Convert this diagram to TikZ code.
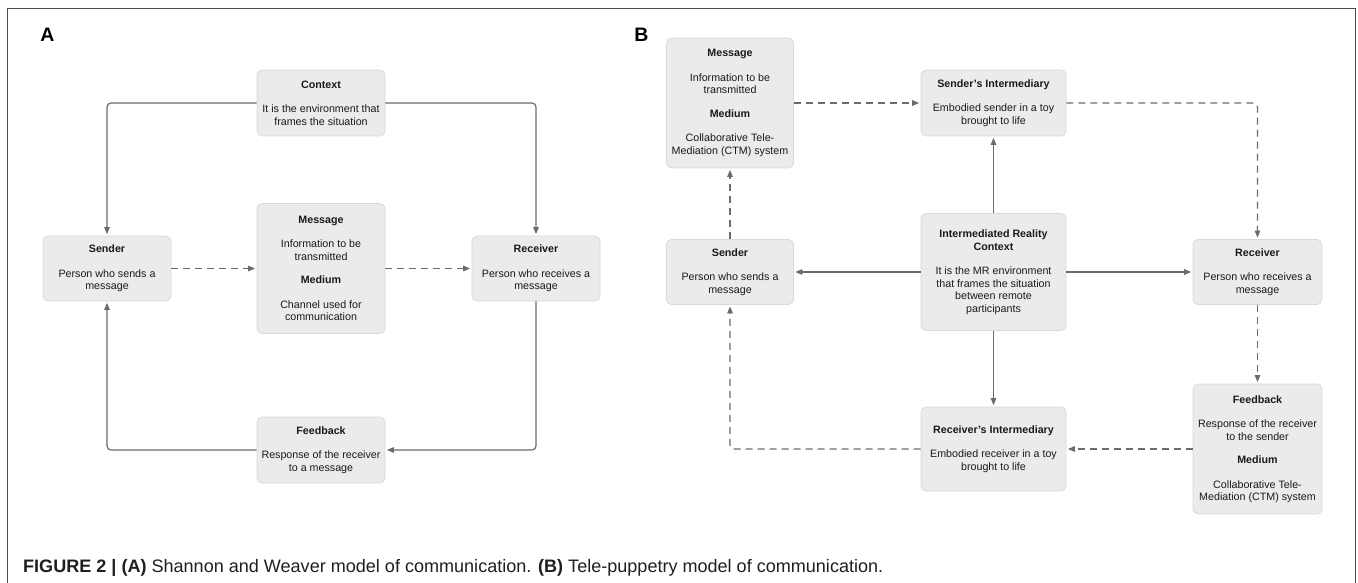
\documentclass[tikz,border=0pt]{standalone}
\usepackage{fontspec}
\setmainfont{Liberation Sans}
\usetikzlibrary{arrows.meta}
\definecolor{boxfill}{HTML}{EBEBEB}
\definecolor{boxedge}{HTML}{D8D8D8}
\definecolor{conn}{HTML}{6B6B6B}
\definecolor{frameclr}{HTML}{4D4D4D}
\definecolor{txt}{HTML}{1A1A1A}
\newcommand{\ttl}[1]{\textbf{#1}}
\begin{document}
\begin{tikzpicture}[x=1pt,y=-1pt,
  box/.style={draw=boxedge, line width=0.7pt, fill=boxfill, rounded corners=5pt,
    align=center, inner sep=0pt, text=txt, font=\fontsize{10.7}{12.5}\selectfont},
  conn/.style={draw=conn, line width=1.2pt, rounded corners=4pt, shorten >=1.5pt,
    -{Triangle[length=7pt,width=5.5pt]}},
  dconn/.style={conn, dash pattern=on 7pt off 5pt},
  panel/.style={font=\fontsize{19.5}{20}\selectfont\bfseries, inner sep=0pt, text=black}]
\useasboundingbox (0,0) rectangle (1358,583);
% frame
\draw[frameclr, line width=1.4pt] (7.5,600) -- (7.5,8.5) -- (1355.5,8.5) -- (1355.5,600);
% panel labels
\node[panel] (labA) at (47.5,34.5) {A};
\node[panel] (labB) at (641.5,34.5) {B};

% ---------- Panel A ----------
\node[box, minimum width=128, minimum height=66] (ctxA) at (321,103)
  {\ttl{Context}\\[12pt]It is the environment that\\frames the situation};
\node[box, minimum width=128, minimum height=130] (msgA) at (321,268.5)
  {\ttl{Message}\\[12pt]Information to be\\transmitted\\[11pt]\ttl{Medium}\\[12pt]Channel used for\\communication};
\node[box, minimum width=128, minimum height=65] (sendA) at (107,268.5)
  {\ttl{Sender}\\[12pt]Person who sends a\\message};
\node[box, minimum width=128, minimum height=65] (recA) at (536,268.5)
  {\ttl{Receiver}\\[12pt]Person who receives a\\message};
\node[box, minimum width=128, minimum height=66] (fbA) at (321,450)
  {\ttl{Feedback}\\[12pt]Response of the receiver\\to a message};

\draw[conn] (ctxA.west) -| (sendA.north);
\draw[conn] (ctxA.east) -| (recA.north);
\draw[dconn] (sendA.east) -- (msgA.west);
\draw[dconn] (msgA.east) -- (recA.west);
\draw[conn] (recA.south) |- (fbA.east);
\draw[conn] (fbA.west) -| (sendA.south);

% ---------- Panel B ----------
\node[box, minimum width=127, minimum height=130] (msgB) at (730,103)
  {\ttl{Message}\\[12pt]Information to be\\transmitted\\[11pt]\ttl{Medium}\\[12pt]Collaborative Tele-\\Mediation (CTM) system};
\node[box, minimum width=145, minimum height=66] (siB) at (993.5,103)
  {\ttl{Sender's Intermediary}\\[12pt]Embodied sender in a toy\\brought to life};
\node[box, minimum width=127, minimum height=65] (sendB) at (730,272)
  {\ttl{Sender}\\[12pt]Person who sends a\\message};
\node[box, minimum width=145, minimum height=117] (irB) at (993.5,272)
  {\ttl{Intermediated Reality}\\\ttl{Context}\\[12pt]It is the MR environment\\that frames the situation\\between remote\\participants};
\node[box, minimum width=129, minimum height=65] (recB) at (1257.5,272)
  {\ttl{Receiver}\\[12pt]Person who receives a\\message};
\node[box, minimum width=145, minimum height=84] (riB) at (993.5,449)
  {\ttl{Receiver's Intermediary}\\[12pt]Embodied receiver in a toy\\brought to life};
\node[box, minimum width=129, minimum height=130] (fbB) at (1257.5,449)
  {\ttl{Feedback}\\[12pt]Response of the receiver\\to the sender\\[11pt]\ttl{Medium}\\[12pt]Collaborative Tele-\\Mediation (CTM) system};

\draw[dconn] (msgB.east) -- (siB.west);
\draw[dconn] (siB.east) -| (recB.north);
\draw[conn] (irB.north) -- (siB.south);
\draw[conn] (irB.west) -- (sendB.east);
\draw[conn] (irB.east) -- (recB.west);
\draw[conn] (irB.south) -- (riB.north);
\draw[dconn] (recB.south) -- (fbB.north);
\draw[dconn] (fbB.west) -- (riB.east);
\draw[dconn] (riB.west) -| (sendB.south);
\draw[dconn] (sendB.north) -- (msgB.south);

% caption
\node[anchor=base west, inner sep=0pt, text=black!88] (cap) at (23,572)
  {\resizebox{860pt}{!}{\textbf{FIGURE 2 | (A)} Shannon and Weaver model of communication. \textbf{(B)} Tele-puppetry model of communication.}};
\end{tikzpicture}
\end{document}
